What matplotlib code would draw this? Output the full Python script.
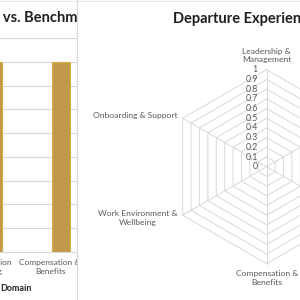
import matplotlib
matplotlib.use("Agg")
import matplotlib.pyplot as plt
import numpy as np

plt.rcParams['font.family'] = ['Lato', 'DejaVu Sans']

# ---------------- data ----------------
bar_domains = ["Leadership &\nManagement", "Recognition &\nCulture",
               "Job Progression\n& Learning", "Compensation &\nBenefits",
               "Work Environment\n& Wellbeing", "Onboarding &\nSupport"]
our_scores = [0, 0, 0, 0, 0, 0]
benchmark_scores = [4.0, 4.0, 4.0, 4.0, 4.0, 4.0]
bar_yticks = [0, 0.5, 1.0, 1.5, 2.0, 2.5, 3.0, 3.5, 4.0, 4.5]

radar_domains = ["Leadership &\nManagement", "Recognition &\nCulture",
                 "Job Progression &\nLearning", "Compensation &\nBenefits",
                 "Work Environment &\nWellbeing", "Onboarding & Support"]
radar_scores = [0, 0, 0, 0, 0, 0]
radar_ticks = [0, 0.1, 0.2, 0.3, 0.4, 0.5, 0.6, 0.7, 0.8, 0.9, 1]

left_title = "Domain Score vs. Benchmark"
left_title_prefix = "Domain Score "
right_title = "Departure Experience Profile"
x_axis_title = "Domain"

GRID = '#D9D9D9'
LABEL = '#595959'
TITLE = '#1F1F1F'
GOLD = '#C09A4A'
GOLD_EDGE = '#D6AE3E'

W = H = 300.0
fig = plt.figure(figsize=(3, 3), dpi=100)

def px(x0, y0, x1, y1):
    # convert pixel box (top-left origin) to figure fraction rect
    return [x0 / W, 1 - y1 / H, (x1 - x0) / W, (y1 - y0) / H]

# ---------------- left bar chart ----------------
ax_left, ax_right = -188, 220
ax1 = fig.add_axes(px(ax_left, 38, ax_right, 252), zorder=1)
x = np.arange(len(bar_domains))
ax1.bar(x - 0.145, our_scores, width=0.27, color='#1F3864', linewidth=0)
ax1.bar(x + 0.163, benchmark_scores, width=0.27, color=GOLD,
        edgecolor=GOLD_EDGE, linewidth=0.8)
ax1.set_xlim(-0.5, len(bar_domains) - 0.5)
ax1.set_ylim(bar_yticks[0], bar_yticks[-1])
ax1.set_yticks(bar_yticks)
ax1.set_xticks(x)
ax1.set_xticklabels(bar_domains, fontsize=6.0, color=LABEL, linespacing=1.3)
ax1.tick_params(axis='both', length=0, pad=5)
ax1.tick_params(axis='y', labelsize=6.0, labelcolor=LABEL)
ax1.grid(axis='y', color=GRID, linewidth=0.8)
ax1.set_axisbelow(True)
for s in ['top', 'left', 'right']:
    ax1.spines[s].set_visible(False)
ax1.spines['bottom'].set_color(GRID)
ax1.spines['bottom'].set_linewidth(0.8)
ax1.set_xlabel(x_axis_title, fontsize=6.5, fontweight='bold', color=TITLE,
               labelpad=7)

# left title positioned so that the suffix starts near the panel edge
fig.canvas.draw()
renderer = fig.canvas.get_renderer()
tmp = fig.text(0, 0, left_title_prefix.replace(' ', '\u00a0'), fontsize=10.5,
               fontweight='bold')
pw = tmp.get_window_extent(renderer).width
tmp.remove()
fig.text((3 - pw) / W, 1 - 18.5 / H, left_title, fontsize=10.5,
         fontweight='bold', color=TITLE, ha='left', va='center', zorder=2)

# ---------------- right panel background ----------------
bg = fig.add_axes(px(77, 0, 300.5, 300.5), zorder=5)
bg.set_facecolor('white')
bg.set_xticks([])
bg.set_yticks([])
for s in ['right', 'bottom', 'top']:
    bg.spines[s].set_visible(False)
bg.spines['left'].set_color(GRID)
bg.spines['left'].set_linewidth(0.9)

# top border of the whole figure
fig.add_artist(plt.Line2D([0, 1], [1 - 0.5 / H, 1 - 0.5 / H],
                          color='#E6E6E6', linewidth=0.8, zorder=8))

# ---------------- radar chart ----------------
cx, cy, R = 266.7, 166.7, 97.0
ax2 = fig.add_axes(px(cx - R, cy - R, cx + R, cy + R), projection='polar',
                   zorder=6)
ax2.set_facecolor('none')
ax2.set_theta_zero_location('N')
ax2.set_theta_direction(-1)
ax2.set_ylim(0, radar_ticks[-1])
ax2.grid(False)
ax2.spines['polar'].set_visible(False)
ax2.set_xticks([])
ax2.set_yticks([])

n = len(radar_domains)
angles = np.linspace(0, 2 * np.pi, n, endpoint=False)
closed = np.concatenate([angles, angles[:1]])
for r in radar_ticks[1:]:
    ax2.plot(closed, [r] * (n + 1), color=GRID, linewidth=0.7, clip_on=False)
for a in angles:
    ax2.plot([a, a], [0, radar_ticks[-1]], color=GRID, linewidth=0.7,
             clip_on=False)
ax2.plot(closed, radar_scores + radar_scores[:1], color='#1F3864',
         linewidth=1.2, clip_on=False)

for r in radar_ticks:
    ax2.annotate(f'{r:g}', xy=(0, r), xytext=(-6.4, 0),
                 textcoords='offset points', ha='right', va='center',
                 fontsize=6.3, color=LABEL, annotation_clip=False)

for a, lab in zip(angles, radar_domains):
    s, c = np.sin(a), np.cos(a)
    if abs(s) < 0.1:
        ha = 'center'
    else:
        ha = 'left' if s > 0 else 'right'
    if c > 0.9:
        va = 'bottom'
    elif c < -0.9:
        va = 'top'
    else:
        va = 'center'
    off = 4.6
    ax2.annotate(lab, xy=(a, radar_ticks[-1]), xytext=(off * s, off * c),
                 textcoords='offset points', ha=ha, va=va,
                 multialignment='center', fontsize=6.1, color=LABEL,
                 linespacing=1.3, annotation_clip=False)

fig.text(172.7 / W, 1 - 18.5 / H, right_title, fontsize=10.5,
         fontweight='bold', color=TITLE, ha='left', va='center', zorder=7)

fig.savefig('out.png', dpi=100)
